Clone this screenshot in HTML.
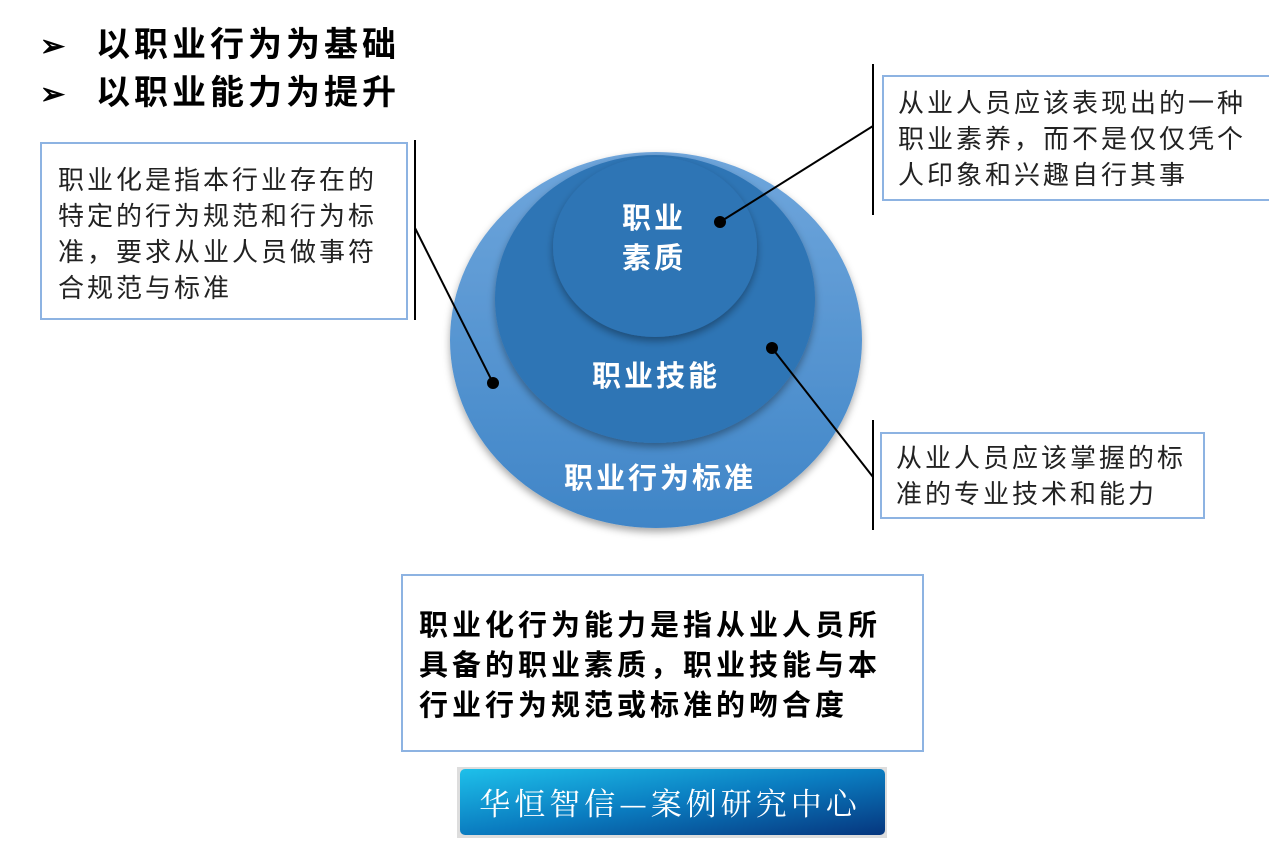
<!DOCTYPE html>
<html><head><meta charset="utf-8"><style>
body{margin:0;width:1269px;height:841px;background:#fff;position:relative;overflow:hidden;font-family:"Liberation Sans","Noto Sans CJK SC",sans-serif;}
.a{position:absolute}
.box{position:absolute;border:2px solid #8db3e2;box-sizing:border-box;background:#fff;color:#222;font-size:26px;letter-spacing:3px;line-height:36px;}
</style></head><body>
<div class="a" style="left:40px;top:22px;font-size:34px;font-weight:bold;line-height:46px;color:#000;letter-spacing:4px">
<div><span style="font-size:30px;display:inline-block;width:56px;letter-spacing:0">➢</span>以职业行为为基础</div>
<div><span style="font-size:30px;display:inline-block;width:56px;letter-spacing:0">➢</span>以职业能力为提升</div>
</div>
<svg class="a" style="left:0;top:0" width="1269" height="841">
<defs>
<linearGradient id="g1" x1="0" y1="0" x2="0" y2="1"><stop offset="0" stop-color="#6fa6dc"/><stop offset="1" stop-color="#3f85c7"/></linearGradient>
<filter id="sh" x="-20%" y="-20%" width="140%" height="140%"><feDropShadow dx="0" dy="4" stdDeviation="4" flood-color="#000" flood-opacity="0.35"/></filter>
<linearGradient id="bn" x1="0" y1="0" x2="1" y2="1"><stop offset="0" stop-color="#1ec0ea"/><stop offset="0.5" stop-color="#0a7cc0"/><stop offset="1" stop-color="#06367e"/></linearGradient>
</defs>
<ellipse cx="656" cy="340" rx="206" ry="188" fill="url(#g1)" filter="url(#sh)"/>
<ellipse cx="655" cy="299" rx="160" ry="144" fill="#2e74b5" filter="url(#sh)"/>
<ellipse cx="655" cy="247" rx="102" ry="90" fill="#2e74b5" filter="url(#sh)"/>
<g stroke="#000" stroke-width="2">
<line x1="415" y1="140" x2="415" y2="320"/>
<line x1="415" y1="228" x2="493" y2="383"/>
<line x1="873" y1="64" x2="873" y2="215"/>
<line x1="873" y1="126" x2="720" y2="222"/>
<line x1="873" y1="420" x2="873" y2="530"/>
<line x1="873" y1="477" x2="772" y2="348"/>
</g>
<circle cx="493" cy="383" r="6" fill="#000"/>
<circle cx="720" cy="222" r="6" fill="#000"/>
<circle cx="772" cy="348" r="6" fill="#000"/>
<g fill="#fff" font-weight="bold" font-size="29" text-anchor="middle" letter-spacing="3" font-family="Liberation Sans,Noto Sans CJK SC,sans-serif">
<text x="654" y="228">职业</text>
<text x="654" y="268">素质</text>
<text x="656" y="386">职业技能</text>
<text x="660" y="488">职业行为标准</text>
</g>
<rect x="457" y="767" width="430" height="71" fill="#ddd"/>
<rect x="460" y="769" width="425" height="66" rx="5" fill="url(#bn)"/>
<text x="670" y="815" fill="#fff" font-size="31" text-anchor="middle" font-family="Noto Serif CJK SC,serif" letter-spacing="4">华恒智信—案例研究中心</text>
</svg>
<div class="box" style="left:40px;top:142px;width:368px;height:178px;padding:18px 24px 0 16px">职业化是指本行业存在的特定的行为规范和行为标准，要求从业人员做事符合规范与标准</div>
<div class="box" style="left:882px;top:75px;width:387px;height:126px;padding:8px 0 0 14px;border-right:none">从业人员应该表现出的一种职业素养，而不是仅仅凭个人印象和兴趣自行其事</div>
<div class="box" style="left:880px;top:432px;width:325px;height:87px;padding:6px 0 0 14px">从业人员应该掌握的标准的专业技术和能力</div>
<div class="box" style="left:401px;top:574px;width:523px;height:178px;padding:30px 36px 0 16px;font-weight:bold;font-size:29px;letter-spacing:4px;line-height:40px;color:#000">职业化行为能力是指从业人员所具备的职业素质，职业技能与本行业行为规范或标准的吻合度</div>
</body></html>
